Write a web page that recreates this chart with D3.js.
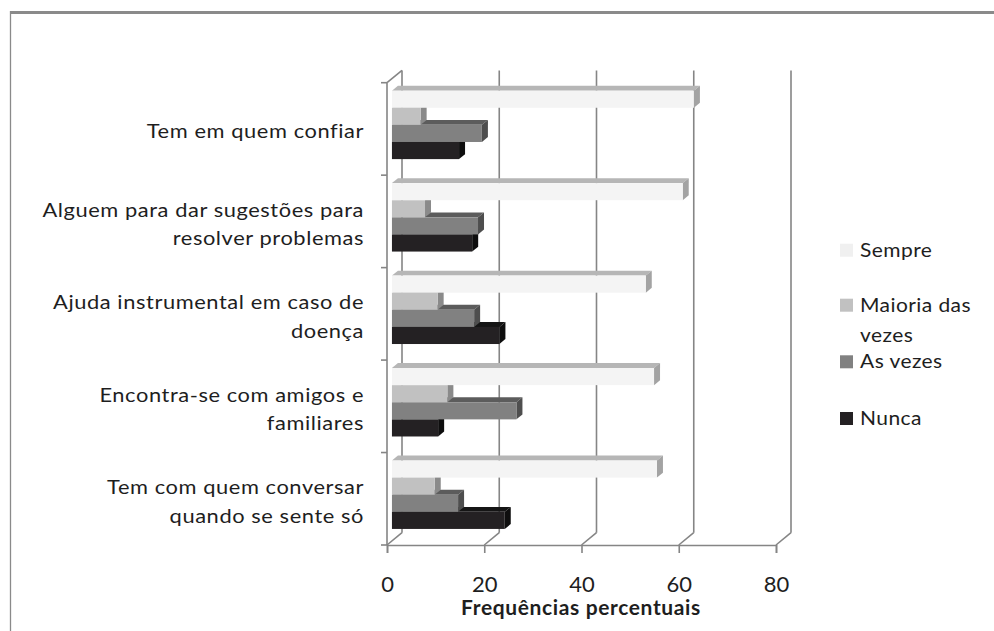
<!DOCTYPE html>
<html>
<head>
<meta charset="utf-8">
<script src="https://cdn.jsdelivr.net/npm/d3@7"></script>
<style>
  html, body { margin: 0; padding: 0; background: #fff; }
  svg { display: block; }
  text { font-family: Lato, "Open Sans", sans-serif; fill: #1e1e1e; }
</style>
</head>
<body>
<svg id="chart" width="994" height="631"></svg>
<script>
// Categories (top to bottom) with their label lines
const categories = [
  "Tem em quem confiar",
  "Alguem para dar sugestões para resolver problemas",
  "Ajuda instrumental em caso de doença",
  "Encontra-se com amigos e familiares",
  "Tem com quem conversar quando se sente só"
];
const categoryLines = [
  ["Tem em quem confiar"],
  ["Alguem para dar sugestões para", "resolver problemas"],
  ["Ajuda instrumental em caso de", "doença"],
  ["Encontra-se com amigos e", "familiares"],
  ["Tem com quem conversar", "quando se sente só"]
];

// Series, in bar order within each category (top to bottom)
const series = ["Sempre", "Maioria das vezes", "As vezes", "Nunca"];
const legendLines = [["Sempre"], ["Maioria das", "vezes"], ["As vezes"], ["Nunca"]];

// Percentages per category
const sempre  = [62.1, 59.8, 52.2, 53.9, 54.5];
const maioria = [5.9, 6.8, 9.4, 11.4, 8.8];
const asVezes = [18.5, 17.7, 16.9, 25.6, 13.6];
const nunca   = [13.8, 16.5, 22.1, 9.5, 23.2];

const xTicks = [0, 20, 40, 60, 80];
const xTitle = "Frequências percentuais";

const seriesValues = [sempre, maioria, asVezes, nunca];

// Shading of each bar: front, top and side faces
const frontColor = ["#f4f4f4", "#c1c1c1", "#818181", "#242123"];
const topColor   = ["#b6b6b6", "#9c9c9c", "#5c5c5c", "#151515"];
const sideColor  = ["#a3a3a3", "#8a8a8a", "#4e4e4e", "#0e0e0e"];
const legendColor = ["#f0f0f0", "#c1c1c1", "#818181", "#242123"];

const svg = d3.select("#chart");

// Outer frame
svg.append("line").attr("x1", 10).attr("x2", 994).attr("y1", 12.5).attr("y2", 12.5)
  .attr("stroke", "#8a8a8a").attr("stroke-width", 3);
svg.append("line").attr("x1", 10.5).attr("x2", 10.5).attr("y1", 11).attr("y2", 631)
  .attr("stroke", "#8a8a8a").attr("stroke-width", 1.3);

// Front plane scales
const x = d3.scaleLinear().domain([0, 80]).range([387, 776]);
const y = d3.scaleBand().domain(categories).range([82.7, 545]).paddingInner(0).paddingOuter(0);

// Depth of the plot box (front plane to back wall) and bar depth span
const depth = { dx: 15, dy: -12.3 };
const barDepth0 = 0.33, barDepth1 = 0.73;

const gridColor = "#858585";
const gridWidth = 1.6;
const grid = svg.append("g").attr("stroke", gridColor).attr("stroke-width", gridWidth).attr("fill", "none");

// Back wall gridlines
xTicks.forEach(t => {
  const bx = x(t) + depth.dx;
  grid.append("line").attr("x1", bx).attr("x2", bx)
    .attr("y1", y.range()[0] + depth.dy).attr("y2", y.range()[1] + depth.dy);
  // floor lines
  grid.append("line").attr("x1", x(t)).attr("y1", y.range()[1])
    .attr("x2", bx).attr("y2", y.range()[1] + depth.dy);
});
// Top edge of the side wall
grid.append("line").attr("x1", x(0)).attr("y1", y.range()[0])
  .attr("x2", x(0) + depth.dx).attr("y2", y.range()[0] + depth.dy);

// Category axis (front, left)
grid.append("line").attr("x1", x(0)).attr("x2", x(0))
  .attr("y1", y.range()[0]).attr("y2", y.range()[1]);
const boundaries = categories.map(c => y(c)).concat([y.range()[1]]);
boundaries.forEach(b => {
  grid.append("line").attr("x1", x(0) - 6).attr("x2", x(0)).attr("y1", b).attr("y2", b);
});

// Value axis (front, bottom)
const xAxisG = svg.append("g").attr("transform", `translate(0,${y.range()[1]})`)
  .call(d3.axisBottom(x).tickValues(xTicks).tickSize(8).tickPadding(0).tickFormat(d3.format("d")));
xAxisG.select(".domain").attr("stroke", gridColor).attr("stroke-width", gridWidth);
xAxisG.selectAll(".tick line").attr("stroke", gridColor).attr("stroke-width", gridWidth);
xAxisG.selectAll(".tick text").attr("y", 47).attr("dy", null)
  .style("font-family", "Lato, 'Open Sans', sans-serif")
  .style("font-size", "22px").style("font-weight", "400").style("fill", "#1e1e1e");

// Axis title
svg.append("text").attr("transform", "translate(581,615) scale(1.05,1)").attr("text-anchor", "middle")
  .style("font-size", "20px").style("font-weight", "bold").style("letter-spacing", "0.6px")
  .text(xTitle);

// Bars
const bars = svg.append("g");
const bdx0 = depth.dx * barDepth0, bdy0 = depth.dy * barDepth0;
const bdx = depth.dx * (barDepth1 - barDepth0), bdy = depth.dy * (barDepth1 - barDepth0);

categories.forEach((cat, ci) => {
  const inner = d3.scaleBand().domain(series)
    .range([y(cat) + 12, y(cat) + y.bandwidth() - 12]);
  // lower bars first so upper bars cover their top faces
  for (let si = series.length - 1; si >= 0; si--) {
    const v = seriesValues[si][ci];
    const xs = x(0) + bdx0, xe = x(v) + bdx0;
    const yt = inner(series[si]) + bdy0, yb = yt + inner.bandwidth();
    const gBar = bars.append("g");
    gBar.append("polygon")
      .attr("points", [[xs, yt], [xs + bdx, yt + bdy], [xe + bdx, yt + bdy], [xe, yt]].join(" "))
      .attr("fill", topColor[si]);
    gBar.append("polygon")
      .attr("points", [[xe, yt], [xe + bdx, yt + bdy], [xe + bdx, yb + bdy], [xe, yb]].join(" "))
      .attr("fill", sideColor[si]);
    gBar.append("rect").attr("x", xs).attr("y", yt).attr("width", xe - xs).attr("height", yb - yt)
      .attr("fill", frontColor[si]);
  }
});

// Category labels
const labelSX = 1.15;
categoryLines.forEach((lines, ci) => {
  const cy = y(categories[ci]) + y.bandwidth() / 2 + 3;
  const lh = 28.5;
  lines.forEach((ln, li) => {
    const by = cy - (lines.length - 1) * lh / 2 + li * lh + 6.5;
    svg.append("text")
      .attr("transform", `translate(364,${by}) scale(${labelSX},1)`)
      .attr("text-anchor", "end")
      .style("font-size", "19px").style("letter-spacing", "0.5px")
      .text(ln);
  });
});

// Legend
const legendY = [256.7, 311.7, 368.3, 425];
series.forEach((s, si) => {
  const by = legendY[si];
  svg.append("rect").attr("x", 840).attr("y", by - 13).attr("width", 13).attr("height", 13)
    .attr("fill", legendColor[si]);
  legendLines[si].forEach((ln, li) => {
    svg.append("text")
      .attr("transform", `translate(860,${by + li * 30}) scale(1.05,1)`)
      .style("font-size", "20px").style("letter-spacing", "0.4px")
      .text(ln);
  });
});
</script>
</body>
</html>
